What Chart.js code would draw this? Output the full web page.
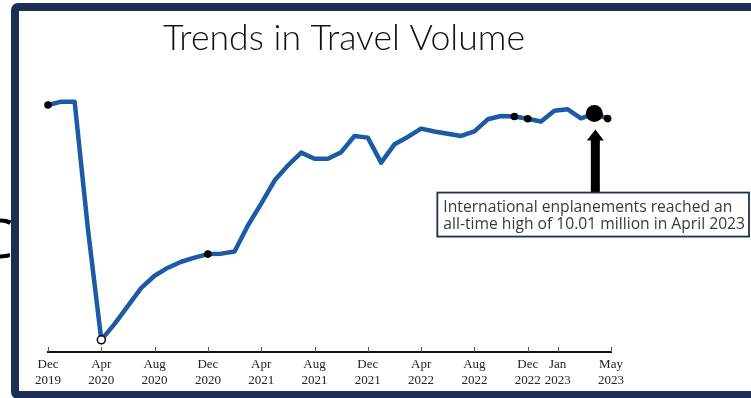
<!DOCTYPE html>
<html>
<head>
<meta charset="utf-8">
<script src="https://cdn.jsdelivr.net/npm/chart.js@4.4.1/dist/chart.umd.min.js"></script>
<style>
  html, body { margin: 0; padding: 0; background: #fff; }
  body { width: 751px; height: 398px; position: relative; overflow: hidden; }
  #bgword { position: absolute; left: -57px; top: 210px; width: 70px; text-align: right;
            font: 54px "Open Sans", sans-serif; line-height: 1; color: #000; }
  #frame { position: absolute; left: 11px; top: 3px; width: 820px; height: 396px; box-sizing: border-box;
           border: 8px solid #1b2f56; border-radius: 7px; background: #fff; }
  #chart { position: absolute; left: 0; top: 0; }
</style>
</head>
<body>
<div id="bgword">C</div>
<div id="frame"></div>
<canvas id="chart" width="751" height="398"></canvas>
<script>
// monthly travel volume, millions
const months = [
  "Dec 2019", "Jan 2020", "Feb 2020", "Mar 2020", "Apr 2020", "May 2020", "Jun 2020", "Jul 2020",
  "Aug 2020", "Sep 2020", "Oct 2020", "Nov 2020", "Dec 2020", "Jan 2021", "Feb 2021", "Mar 2021",
  "Apr 2021", "May 2021", "Jun 2021", "Jul 2021", "Aug 2021", "Sep 2021", "Oct 2021", "Nov 2021",
  "Dec 2021", "Jan 2022", "Feb 2022", "Mar 2022", "Apr 2022", "May 2022", "Jun 2022", "Jul 2022",
  "Aug 2022", "Sep 2022", "Oct 2022", "Nov 2022", "Dec 2022", "Jan 2023", "Feb 2023", "Mar 2023",
  "Apr 2023", "May 2023", "Jun 2023"
];
const volume = [
  10.37, 10.51, 10.51, 5.14, 0.51, 1.18, 1.94, 2.69,
  3.20, 3.54, 3.79, 3.96, 4.11, 4.13, 4.22, 5.31,
  6.23, 7.20, 7.83, 8.37, 8.11, 8.11, 8.39, 9.07,
  9.00, 7.95, 8.72, 9.03, 9.38, 9.26, 9.16, 9.07,
  9.26, 9.77, 9.91, 9.89, 9.79, 9.68, 10.13, 10.19,
  9.81, 10.01, 9.80
];

// axis ticks (month offsets from Dec 2019) and their two-line labels
const tickAt = [0, 4, 8, 12, 16, 20, 24, 28, 32, 36, 38.25, 42.25];
const tickLabels = [
  ["Dec", "2019"], ["Apr", "2020"], ["Aug", "2020"], ["Dec", "2020"],
  ["Apr", "2021"], ["Aug", "2021"], ["Dec", "2021"], ["Apr", "2022"],
  ["Aug", "2022"], ["Dec", "2022"], ["Jan", "2023"], ["May", "2023"]
];

// highlighted points
const markedMonths = [0, 12, 35, 36, 42];
const lowMonth = 4;
const peakMonth = 41;

const chartTitle = "Trends in Travel Volume";
const noteLines = [
  "International enplanements reached an",
  "all-time high of 10.01 million in April 2023"
];

const NAVY = "#1b2f56";

const overlay = {
  id: "overlay",
  afterDraw(chart) {
    const { ctx, chartArea, scales: { x, y } } = chart;
    ctx.save();

    // title
    ctx.font = '300 36px Lato, "Open Sans", sans-serif';
    ctx.fillStyle = "#111";
    ctx.textBaseline = "alphabetic";
    ctx.textAlign = "center";
    const tw = ctx.measureText(chartTitle).width;
    ctx.save();
    ctx.translate(344, 50);
    ctx.scale(362 / tw, 1);
    ctx.fillText(chartTitle, 0, 0);
    ctx.restore();

    // short tick marks pointing up from the axis line
    ctx.strokeStyle = "#555";
    ctx.lineWidth = 1;
    tickAt.forEach(v => {
      const px = Math.round(x.getPixelForValue(v)) + 0.5;
      ctx.beginPath();
      ctx.moveTo(px, chartArea.bottom);
      ctx.lineTo(px, chartArea.bottom - 5);
      ctx.stroke();
    });

    // arrow up to the peak point
    const ax = x.getPixelForValue(peakMonth) + 1;
    const py = y.getPixelForValue(volume[peakMonth]);
    const tip = py + 16;
    const headBase = tip + 11;
    const boxTop = py + 79;
    ctx.fillStyle = "#000";
    ctx.beginPath();
    ctx.moveTo(ax, tip);
    ctx.lineTo(ax + 8.5, headBase);
    ctx.lineTo(ax + 4.5, headBase);
    ctx.lineTo(ax + 4.5, boxTop);
    ctx.lineTo(ax - 4.5, boxTop);
    ctx.lineTo(ax - 4.5, headBase);
    ctx.lineTo(ax - 8.5, headBase);
    ctx.closePath();
    ctx.fill();

    // note box
    const boxLeft = ax - 158;
    const boxRight = 749;
    const boxH = 44;
    ctx.fillStyle = "#fff";
    ctx.fillRect(boxLeft, boxTop, boxRight - boxLeft, boxH);
    ctx.strokeStyle = NAVY;
    ctx.lineWidth = 1.8;
    ctx.strokeRect(boxLeft, boxTop, boxRight - boxLeft, boxH);

    ctx.textAlign = "left";
    ctx.fillStyle = "#3a3a3a";
    ctx.font = '13px "Open Sans", sans-serif';
    const fs = 13 * 302 / ctx.measureText(noteLines[1]).width;
    ctx.font = fs.toFixed(2) + 'px "Open Sans", sans-serif';
    ctx.fillText(noteLines[0], boxLeft + 6, boxTop + 19);
    ctx.fillText(noteLines[1], boxLeft + 6, boxTop + 36.5);

    ctx.restore();
  }
};

new Chart(document.getElementById("chart"), {
  type: "line",
  data: {
    labels: months,
    datasets: [{
      data: volume.map((v, i) => ({ x: i, y: v })),
      borderColor: "#1d5aa6",
      borderWidth: 4.5,
      tension: 0,
      clip: false,
      borderJoinStyle: "round",
      borderCapStyle: "round",
      pointRadius: c => c.dataIndex === peakMonth ? 8.5
        : c.dataIndex === lowMonth ? 4
        : markedMonths.includes(c.dataIndex) ? 3.8 : 0,
      pointBackgroundColor: c => c.dataIndex === lowMonth ? "#fff" : "#000",
      pointBorderColor: "#000",
      pointBorderWidth: c => c.dataIndex === lowMonth ? 1.5 : 0
    }]
  },
  options: {
    responsive: false,
    animation: false,
    events: [],
    layout: { padding: { left: 48, right: 140, top: 90, bottom: 0 } },
    plugins: { legend: { display: false }, tooltip: { enabled: false } },
    scales: {
      x: {
        type: "linear",
        min: 0,
        max: 42.25,
        afterBuildTicks: s => { s.ticks = tickAt.map(v => ({ value: v })); },
        afterFit: s => { s.height = 46; },
        grid: { display: false, drawOnChartArea: false, drawTicks: false },
        border: { display: true, color: "#111", width: 2 },
        ticks: {
          autoSkip: false,
          maxRotation: 0,
          padding: 5,
          color: "#222",
          font: { family: '"Liberation Serif", "Times New Roman", serif', size: 13, lineHeight: 1.2 },
          callback: (v, i) => tickLabels[i]
        }
      },
      y: { display: false, min: 0, max: 11 }
    }
  },
  plugins: [overlay]
});
</script>
</body>
</html>
